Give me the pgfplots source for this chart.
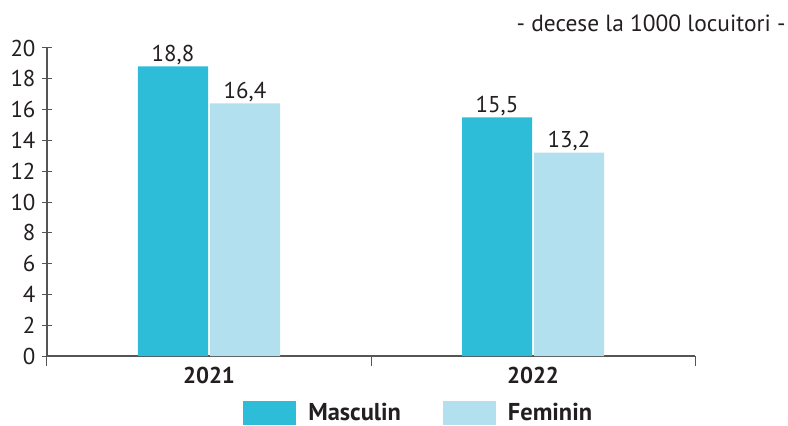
\documentclass[border=0pt]{standalone}
\usepackage{fontspec}
\setmainfont{PT Sans}
\usepackage{pgfplots}
\pgfplotsset{compat=1.18}
\definecolor{masc}{HTML}{2DBDD8}
\definecolor{fem}{HTML}{B2E0EE}
\definecolor{txt}{HTML}{231F20}
\definecolor{axc}{HTML}{555555}
\begin{document}
\begin{tikzpicture}
\begin{axis}[
  scale only axis,
  width=648bp, height=308bp,
  xmin=0, xmax=2, ymin=0, ymax=20,
  axis x line*=bottom, axis y line*=left,
  axis line style={axc, line width=1.2bp},
  every tick/.style={axc, line width=1bp},
  tick align=center,
  major tick length=10bp,
  ytick={0,2,...,20},
  yticklabel style={xshift=-3bp},
  xtick={0,1,2}, xticklabels={},
  extra x ticks={0.5,1.5},
  extra x tick labels={\textbf{2021},\textbf{2022}},
  extra x tick style={major tick length=0pt, tick style={draw=none}},
  xticklabel style={yshift=-8bp},
  ticklabel style={font=\fontsize{23}{27}\selectfont, text=txt},
  /pgf/number format/assume math mode=true,
  ybar=2bp, bar width=70bp,
  nodes near coords={\pgfmathprintnumber[use comma,fixed,fixed zerofill,precision=1,assume math mode=true]{\pgfplotspointmeta}},
  every node near coord/.append style={font=\fontsize{23}{27}\selectfont, text=txt, yshift=-2bp},
  legend columns=2,
  legend style={at={(axis description cs:0.298,-0.138)}, anchor=north west, draw=none, fill=none,
    font=\fontsize{24.5}{27}\selectfont\bfseries, text=txt,
    /tikz/every odd column/.append style={column sep=10bp},
    /tikz/every even column/.append style={column sep=40bp}},
  legend image code/.code={\fill[#1] (0bp,-12bp) rectangle (53bp,12bp);},
  clip=false,
]
\addplot[fill=masc, draw=none] coordinates {(0.5,18.8) (1.5,15.5)};
\addplot[fill=fem, draw=none] coordinates {(0.5,16.4) (1.5,13.2)};
\legend{Masculin, Feminin}
\node[anchor=base east, font=\fontsize{23.5}{27}\selectfont, text=txt] at (axis description cs:1.145,1.055) {- decese la 1000 locuitori -};
\end{axis}
\pgfresetboundingbox
\useasboundingbox ([xshift=-47bp,yshift=-70bp]current axis.south west) rectangle ([xshift=93bp,yshift=48bp]current axis.north east);
\end{tikzpicture}
\end{document}
